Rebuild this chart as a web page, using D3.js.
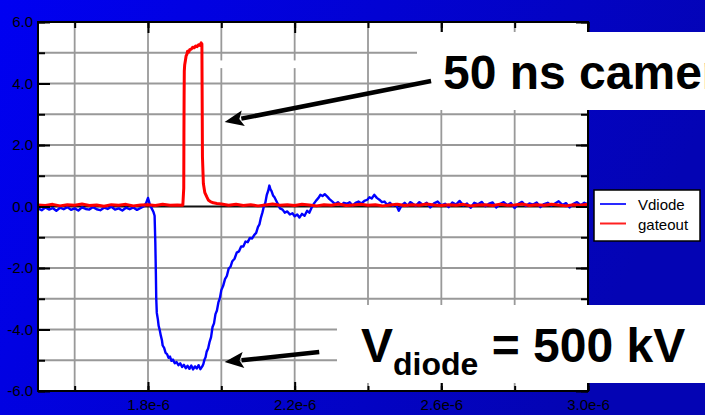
<!DOCTYPE html>
<meta charset="utf-8">
<script src="https://d3js.org/d3.v7.min.js"></script>
<style>
  body { margin: 0; }
  svg { display: block; }
  text { font-family: "Liberation Sans", Arial, sans-serif; }
</style>
<div id="my_dataviz"></div>
<script>

// time in units of 1e-6 s, voltage
var xTicks = [1.6, 1.8, 2.0, 2.2, 2.4, 2.6, 2.8, 3.0];
var xLabels = [1.8, 2.2, 2.6, 3.0];
var yTicks = [-6, -5, -4, -3, -2, -1, 0, 1, 2, 3, 4, 5, 6];
var yLabels = [-6, -4, -2, 0, 2, 4, 6];
var seriesNames = ["Vdiode", "gateout"];

var vdiode = [
  [1.50,-0.06],[1.51,-0.12],[1.52,-0.03],[1.53,-0.10],[1.54,-0.05],[1.55,-0.14],[1.56,-0.04],[1.57,-0.09],
  [1.58,-0.02],[1.59,-0.11],[1.60,-0.06],[1.61,-0.13],[1.62,-0.03],[1.63,-0.08],[1.64,-0.10],[1.65,-0.02],
  [1.66,-0.09],[1.67,-0.12],[1.68,-0.04],[1.69,-0.08],[1.70,-0.01],[1.71,-0.10],[1.72,-0.06],[1.73,-0.13],
  [1.74,-0.04],[1.75,-0.09],[1.76,-0.03],[1.77,-0.11],[1.78,-0.05],[1.79,0.02],[1.795,0.12],[1.80,0.28],
  [1.805,0.06],[1.81,-0.06],[1.815,-0.18],[1.818,-0.30],
  [1.820,-1.2],[1.8215,-2.2],[1.8225,-3.0],[1.824,-3.46],[1.827,-3.68],[1.829,-3.88],[1.832,-4.02],
  [1.835,-4.20],[1.838,-4.35],[1.840,-4.52],[1.844,-4.60],[1.848,-4.76],[1.852,-4.80],[1.856,-4.92],
  [1.860,-4.88],[1.864,-5.02],[1.868,-4.98],[1.873,-5.10],[1.878,-5.06],[1.883,-5.16],[1.888,-5.10],
  [1.893,-5.22],[1.898,-5.15],[1.903,-5.26],[1.908,-5.18],[1.913,-5.28],[1.918,-5.17],[1.923,-5.30],
  [1.928,-5.20],[1.933,-5.27],[1.938,-5.16],[1.943,-5.29],[1.948,-5.20],[1.951,-5.12],[1.954,-4.98],
  [1.957,-4.90],[1.960,-4.72],[1.964,-4.62],[1.968,-4.40],[1.972,-4.25],[1.976,-3.92],[1.980,-3.80],
  [1.984,-3.50],[1.988,-3.38],[1.992,-3.12],[1.996,-2.98],[2.000,-2.72],[2.005,-2.58],[2.010,-2.36],
  [2.015,-2.26],[2.020,-2.02],[2.025,-1.96],[2.030,-1.78],[2.036,-1.70],[2.042,-1.50],[2.048,-1.46],
  [2.054,-1.30],[2.060,-1.30],[2.066,-1.14],[2.072,-1.16],[2.078,-1.02],[2.084,-1.04],[2.090,-0.92],
  [2.095,-0.86],[2.100,-0.66],[2.104,-0.58],[2.108,-0.36],[2.112,-0.20],[2.116,0.00],[2.120,0.12],
  [2.124,0.38],[2.128,0.52],[2.131,0.68],[2.134,0.56],[2.137,0.50],[2.141,0.36],[2.145,0.30],
  [2.150,0.18],[2.155,0.06],[2.160,-0.06],[2.167,-0.10],[2.173,-0.20],[2.180,-0.16],[2.187,-0.26],
  [2.194,-0.22],[2.200,-0.32],[2.207,-0.26],[2.213,-0.36],[2.220,-0.24],[2.227,-0.30],[2.234,-0.14],
  [2.240,-0.20],[2.247,-0.02],[2.253,0.10],[2.259,0.20],[2.265,0.28],[2.270,0.38],[2.276,0.34],
  [2.282,0.40],[2.289,0.32],[2.295,0.24],[2.303,0.16],[2.310,0.08],[2.318,0.14],[2.326,0.04],
  [2.334,0.12],[2.342,0.09],[2.350,0.14],[2.358,0.03],[2.366,0.12],[2.374,0.16],[2.382,0.10],
  [2.390,0.18],[2.398,0.22],[2.404,0.30],[2.410,0.26],[2.417,0.38],[2.424,0.28],[2.431,0.22],
  [2.438,0.14],[2.445,0.16],[2.452,0.06],[2.460,0.12],[2.468,0.02],[2.476,0.08],[2.484,-0.14],
  [2.492,0.04],[2.500,0.12],[2.508,0.02],[2.515,0.14],
  [2.52,0.11],[2.53,0.02],[2.54,0.14],[2.55,0.05],[2.56,0.12],[2.57,-0.03],[2.58,0.10],[2.59,0.16],
  [2.60,0.04],[2.61,0.09],[2.62,-0.02],[2.63,0.13],[2.64,0.06],[2.65,0.18],[2.66,0.03],[2.67,0.10],
  [2.68,-0.04],[2.69,0.12],[2.70,0.07],[2.71,0.15],[2.72,0.01],[2.73,0.09],[2.74,0.13],[2.75,-0.03],
  [2.76,0.08],[2.77,0.14],[2.78,0.04],[2.79,0.11],[2.80,-0.05],[2.81,0.09],[2.82,0.15],[2.83,0.02],
  [2.84,0.10],[2.85,0.06],[2.86,0.13],[2.87,-0.02],[2.88,0.08],[2.89,0.12],[2.90,0.03],[2.91,0.10],
  [2.92,0.17],[2.93,0.05],[2.94,0.11],[2.95,-0.03],[2.96,0.09],[2.97,0.14],[2.98,0.04],[2.99,0.12],[3.00,0.07]
];

var gateout = [
  [1.50,0.05],[1.52,0.03],[1.54,0.07],[1.56,0.02],[1.58,0.06],[1.60,0.04],[1.62,0.08],[1.64,0.03],
  [1.66,0.05],[1.68,0.01],[1.70,0.06],[1.72,0.04],[1.74,0.07],[1.76,0.02],[1.78,0.05],[1.80,0.06],
  [1.82,0.03],[1.84,0.07],[1.86,0.04],[1.88,0.05],[1.895,0.04],
  [1.8975,0.6],[1.898,2.4],[1.8985,3.6],[1.899,4.4],[1.900,4.6],[1.902,4.75],[1.904,4.9],[1.906,4.95],
  [1.908,5.05],[1.911,5.02],[1.914,5.10],[1.918,5.12],[1.922,5.18],[1.926,5.16],[1.930,5.22],
  [1.934,5.20],[1.938,5.26],[1.942,5.24],[1.945,5.32],[1.947,5.28],
  [1.9475,4.0],[1.9485,1.62],[1.950,1.1],[1.951,0.75],[1.955,0.45],[1.960,0.32],[1.965,0.20],
  [1.970,0.16],[1.978,0.12],[1.988,0.10],[2.000,0.08],
  [2.02,0.04],[2.04,0.07],[2.06,0.03],[2.08,0.06],[2.10,0.02],[2.12,0.05],[2.14,0.08],[2.16,0.04],
  [2.18,0.06],[2.20,0.03],[2.22,0.07],[2.24,0.05],[2.26,0.02],[2.28,0.06],[2.30,0.04],[2.32,0.08],
  [2.34,0.03],[2.36,0.05],[2.38,0.07],[2.40,0.04],[2.42,0.06],[2.44,0.02],[2.46,0.05],[2.48,0.07],
  [2.50,0.03],[2.52,0.06],[2.54,0.04],[2.56,0.08],[2.58,0.05],[2.60,0.03],[2.62,0.06],[2.64,0.04],
  [2.66,0.07],[2.68,0.02],[2.70,0.05],[2.72,0.06],[2.74,0.03],[2.76,0.07],[2.78,0.04],[2.80,0.05],
  [2.82,0.08],[2.84,0.03],[2.86,0.06],[2.88,0.04],[2.90,0.07],[2.92,0.05],[2.94,0.02],[2.96,0.06],
  [2.98,0.04],[3.00,0.07]
];

var W = 705, H = 415;
var margin = {top: 22, right: 117, bottom: 24, left: 38};
var x0 = margin.left, x1 = W - margin.right, y0 = margin.top, y1 = H - margin.bottom;

var svg = d3.select("#my_dataviz")
  .append("svg")
    .attr("width", W)
    .attr("height", H);

// slide background
var grad = svg.append("defs").append("linearGradient")
    .attr("id", "bg").attr("x1", "0").attr("x2", "1").attr("y1", "0").attr("y2", "0.3");
grad.append("stop").attr("offset", "0").attr("stop-color", "#0000f2");
grad.append("stop").attr("offset", "1").attr("stop-color", "#0404b4");
svg.append("rect").attr("width", W).attr("height", H).attr("fill", "url(#bg)");

var x = d3.scaleLinear().domain([1.5, 3.0]).range([x0, x1]);
var y = d3.scaleLinear().domain([-6, 6]).range([y1, y0]);

svg.append("rect")
  .attr("x", x0).attr("y", y0).attr("width", x1 - x0).attr("height", y1 - y0)
  .attr("fill", "white");

// grid
svg.append("g").selectAll("line").data(xTicks).enter().append("line")
  .attr("x1", d => x(d)).attr("x2", d => x(d)).attr("y1", y0).attr("y2", y1)
  .attr("stroke", "#999").attr("stroke-width", 1.8);
svg.append("g").selectAll("line").data(yTicks).enter().append("line")
  .attr("x1", x0).attr("x2", x1).attr("y1", d => y(d)).attr("y2", d => y(d))
  .attr("stroke", d => d === 0 ? "#111" : "#999").attr("stroke-width", d => d === 0 ? 2 : 1.8);

// little white patch left over on the grid
svg.append("rect").attr("x", x(1.99)).attr("y", y(4.75)).attr("width", x(2.23) - x(1.99)).attr("height", y(4.5) - y(4.75))
  .attr("fill", "white");

// traces
var line = d3.line().x(d => x(d[0])).y(d => y(d[1]));
svg.append("path").datum(vdiode).attr("d", line)
  .attr("fill", "none").attr("stroke", "#0000ff").attr("stroke-width", 2.4).attr("stroke-linejoin", "round");
svg.append("path").datum(gateout).attr("d", line)
  .attr("fill", "none").attr("stroke", "#ff0000").attr("stroke-width", 3).attr("stroke-linejoin", "round");

// inward ticks on all four sides
function ticks(g) { g.select(".domain").remove(); g.selectAll("line").attr("stroke", "#000").attr("stroke-width", 2); }
svg.append("g").attr("transform", "translate(0," + y0 + ")")
  .call(d3.axisBottom(x).tickValues(xTicks).tickSize(6).tickFormat("")).call(ticks);
svg.append("g").attr("transform", "translate(0," + y0 + ")")
  .call(d3.axisBottom(x).tickValues(xLabels).tickSize(11).tickFormat("")).call(ticks);
svg.append("g").attr("transform", "translate(0," + y1 + ")")
  .call(d3.axisTop(x).tickValues(xTicks).tickSize(5).tickFormat("")).call(ticks);
svg.append("g").attr("transform", "translate(0," + y1 + ")")
  .call(d3.axisTop(x).tickValues(xLabels).tickSize(9).tickFormat("")).call(ticks);
svg.append("g").attr("transform", "translate(" + x0 + ",0)")
  .call(d3.axisRight(y).tickValues(yTicks).tickSize(7).tickFormat("")).call(ticks);
svg.append("g").attr("transform", "translate(" + x0 + ",0)")
  .call(d3.axisRight(y).tickValues(yLabels).tickSize(12).tickFormat("")).call(ticks);
svg.append("g").attr("transform", "translate(" + x1 + ",0)")
  .call(d3.axisLeft(y).tickValues(yTicks).tickSize(7).tickFormat("")).call(ticks);
svg.append("g").attr("transform", "translate(" + x1 + ",0)")
  .call(d3.axisLeft(y).tickValues(yLabels).tickSize(12).tickFormat("")).call(ticks);

svg.append("rect")
  .attr("x", x0).attr("y", y0).attr("width", x1 - x0).attr("height", y1 - y0)
  .attr("fill", "none").attr("stroke", "#000").attr("stroke-width", 2);

// tick labels
var yAxis = svg.append("g").attr("transform", "translate(" + x0 + ",0)")
  .call(d3.axisLeft(y).tickValues(yLabels).tickSize(0).tickPadding(5).tickFormat(d => d.toFixed(1)));
yAxis.select(".domain").remove();
yAxis.selectAll("text").attr("font-size", 15).attr("fill", "#000")
  .style("font-family", "'Liberation Sans', Arial, sans-serif");

var xAxis = svg.append("g").attr("transform", "translate(0," + y1 + ")")
  .call(d3.axisBottom(x).tickValues(xLabels).tickSize(0).tickPadding(8).tickFormat(d => d.toFixed(1) + "e-6"));
xAxis.select(".domain").remove();
xAxis.selectAll("text").attr("font-size", 15).attr("fill", "#000")
  .style("font-family", "'Liberation Sans', Arial, sans-serif");

// legend
var legend = svg.append("g");
legend.append("rect").attr("x", 594).attr("y", 190).attr("width", 106).attr("height", 51)
  .attr("fill", "white").attr("stroke", "#000").attr("stroke-width", 1.5);
var colors = ["#2a2aff", "#ff2020"];
seriesNames.forEach(function(name, i) {
  var ly = 204 + i * 19.5;
  legend.append("line").attr("x1", 600).attr("x2", 626).attr("y1", ly).attr("y2", ly)
    .attr("stroke", colors[i]).attr("stroke-width", 2);
  legend.append("text").attr("x", 638).attr("y", ly + 6).attr("font-size", 15).text(name);
});

// annotation boxes
svg.append("rect").attr("x", 417).attr("y", 32).attr("width", W - 417).attr("height", 78).attr("fill", "white");
svg.append("rect").attr("x", 337).attr("y", 305).attr("width", W - 337).attr("height", 78).attr("fill", "white");

svg.append("text").attr("x", 443).attr("y", 89)
  .attr("font-size", 48).attr("font-weight", "bold").text("50 ns camera");

var vt = svg.append("text").attr("x", 361).attr("y", 362).attr("font-size", 48).attr("font-weight", "bold");
vt.append("tspan").text("V");
vt.append("tspan").attr("font-size", 32).attr("dy", 13).text("diode");
vt.append("tspan").attr("dy", -13).text(" = 500 kV");

// arrows
var arrows = [
  {from: [2.572, 4.08], to: [2.009, 2.75]},
  {from: [2.267, -4.73], to: [2.009, -5.06]}
];
arrows.forEach(function(a) {
  var sx = x(a.from[0]), sy = y(a.from[1]), tx = x(a.to[0]), ty = y(a.to[1]);
  var dx = tx - sx, dy = ty - sy, len = Math.sqrt(dx * dx + dy * dy);
  var ux = dx / len, uy = dy / len;
  var hl = 19, hw = 8;
  var bx = tx - ux * hl, by = ty - uy * hl;
  svg.append("line").attr("x1", sx).attr("y1", sy).attr("x2", bx + ux * 2).attr("y2", by + uy * 2)
    .attr("stroke", "#000").attr("stroke-width", 4.5);
  svg.append("path")
    .attr("d", "M" + tx + "," + ty + "L" + (bx - uy * hw) + "," + (by + ux * hw) +
               "L" + (bx + ux * 4) + "," + (by + uy * 4) +
               "L" + (bx + uy * hw) + "," + (by - ux * hw) + "Z")
    .attr("fill", "#000");
});

</script>
